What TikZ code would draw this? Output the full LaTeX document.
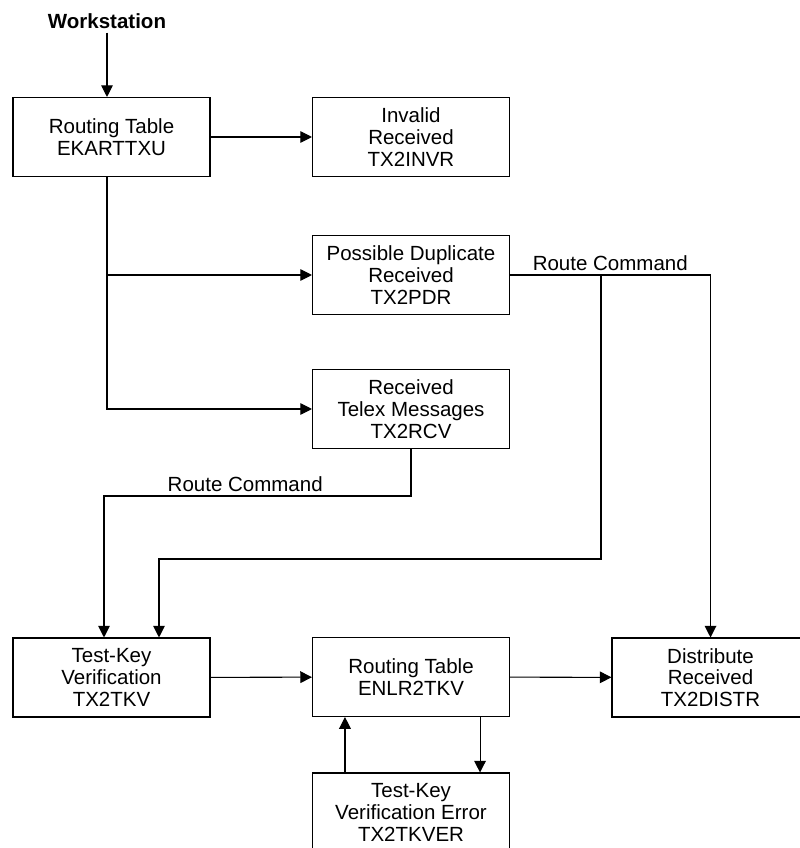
\documentclass[tikz,border=0pt]{standalone}
\usepackage{fontspec}
\setmainfont{Liberation Sans}
\usepackage{tikz}
\usetikzlibrary{arrows.meta, positioning, calc}

\begin{document}
\begin{tikzpicture}[
    x=0.03cm, y=-0.03cm,
    font=\fontsize{17.5}{18.5}\selectfont,
    box/.style={draw, line width=0.9pt, minimum width=5.91cm, minimum height=2.37cm, align=center, inner sep=2pt},
    arrow/.style={-{Triangle[length=10pt, width=10pt]}, line width=0.9pt}
]
\useasboundingbox (0,0) rectangle (799,848);

% Nodes
\node[font=\fontsize{17.5}{18.5}\selectfont\bfseries] (workstation) at (107,21) {Workstation};
\node[box] (ekarttxu) at (111.5,137) {Routing Table\\EKARTTXU};
\node[box] (tx2invr) at (411,137) {Invalid\\Received\\TX2INVR};
\node[box] (tx2pdr) at (411,275) {Possible Duplicate\\Received\\TX2PDR};
\node[box] (tx2rcv) at (411,409) {Received\\Telex Messages\\TX2RCV};
\node[box] (tx2tkv) at (111.5,677.5) {Test-Key\\Verification\\TX2TKV};
\node[box] (enlr2tkv) at (411,677) {Routing Table\\ENLR2TKV};
\node[box] (tx2distr) at (710.5,677.5) {Distribute\\Received\\TX2DISTR};
\node[box] (tx2tkver) at (411,812.5) {Test-Key\\Verification Error\\TX2TKVER};

% Bends
\coordinate (split) at (601,276);
\coordinate (bend) at (159,559);
\coordinate (turn) at (104,496);

% Edges
\draw[arrow] (workstation.south) -- (workstation.south |- ekarttxu.north);
\draw[arrow] (ekarttxu) -- (tx2invr);
\draw[arrow] (workstation |- ekarttxu.south) |- (tx2pdr);
\draw[arrow] (workstation |- ekarttxu.south) |- (tx2rcv);
\draw[arrow] (tx2pdr) -| node[pos=0.25, above] {Route Command} (tx2distr);
\draw[arrow] (split) |- (bend) -- (bend |- tx2tkv.north);
\draw[arrow] (tx2rcv.south) |- node[pos=0.77, above] {Route Command} (turn) -- (turn |- tx2tkv.north);
\draw[arrow] (tx2tkv) -- (enlr2tkv);
\draw[arrow] (enlr2tkv) -- (tx2distr);
\draw[arrow] ([xshift=-0.9cm]enlr2tkv.south east) -- ([xshift=-0.9cm]tx2tkver.north east);
\draw[arrow] ([xshift=0.99cm]tx2tkver.north west) -- ([xshift=0.99cm]enlr2tkv.south west);

\end{tikzpicture}
\end{document}
